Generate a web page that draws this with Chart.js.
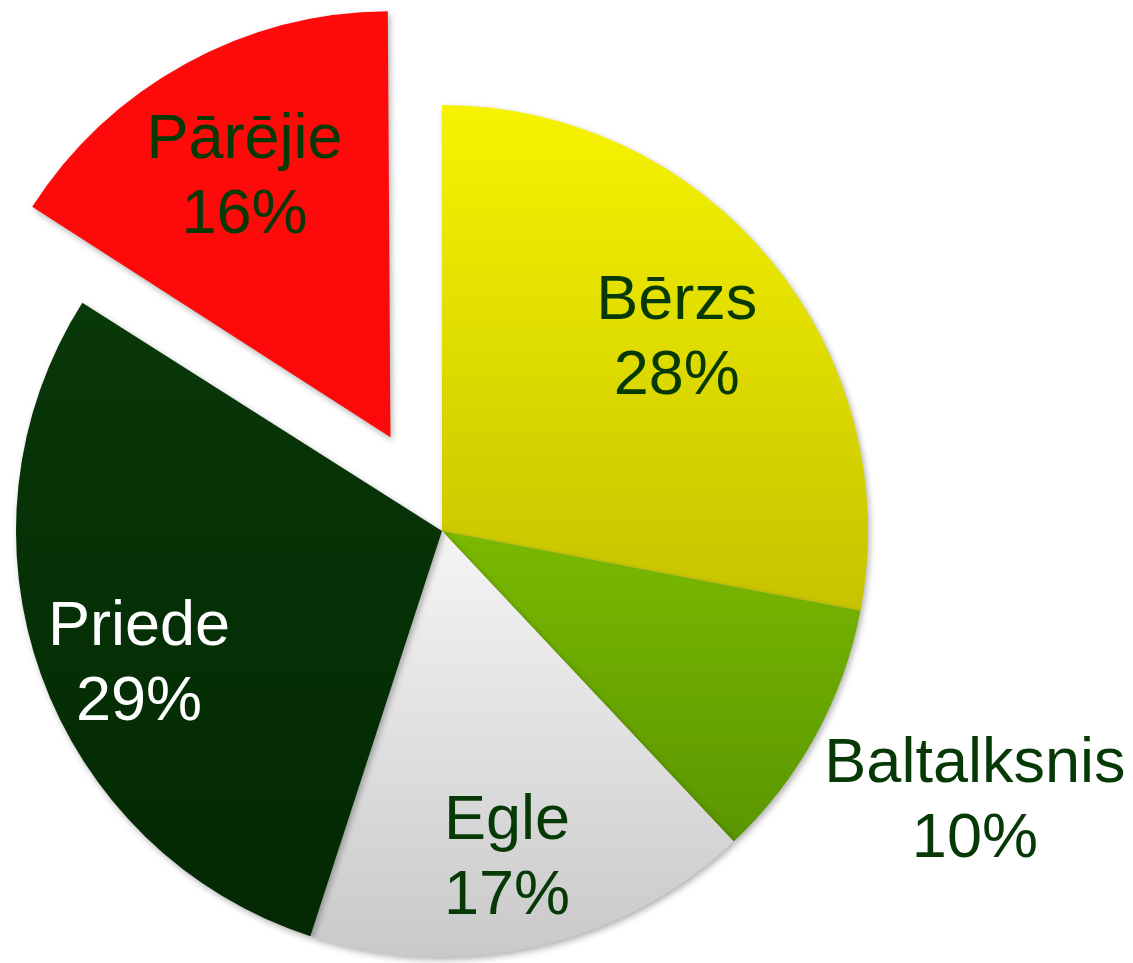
<!DOCTYPE html>
<html>
<head>
<meta charset="utf-8">
<script src="https://cdn.jsdelivr.net/npm/chart.js@4/dist/chart.umd.min.js"></script>
<style>
  html, body { margin: 0; padding: 0; background: #ffffff; }
  #wrap { width: 1133px; height: 963px; }
</style>
</head>
<body>
<div id="wrap"><canvas id="pie" width="1133" height="963"></canvas></div>
<script>
// data (percent shares)
const categories = ['Bērzs', 'Baltalksnis', 'Egle', 'Priede', 'Pārējie'];
const shares = [28, 10, 17, 29, 16];

// styling
const sliceStops = [
  [[0, '#f6f300'], [0.6, '#c6c200'], [1, '#b2ae00']],
  [[0, '#9ad000'], [0.5, '#7aba00'], [0.9, '#579200']],
  [[0, '#ffffff'], [0.5, '#f5f5f5'], [1, '#c9c9c9']],
  [[0, '#0c3e0c'], [0.4, '#073407'], [1, '#032803']],
  [[0, '#ff0a0a'], [1, '#fb0808']]
];
const sliceOffsets = [0, 0, 0, 0, 428];
const labelColors = ['#063906', '#063906', '#063906', '#ffffff', '#063906'];
const labelRadius = [0.712, 1.404, 0.785, 0.778, 0.698];
const labelAngleShift = [0.3, -1.8, 1.4, -4.1, -0.6];
const pieRadius = 426;
const lineHeight = 75;

function sliceFill(context) {
  const chart = context.chart;
  const area = chart.chartArea;
  const stops = sliceStops[context.dataIndex];
  if (!area) return stops[0][1];
  const cy = (area.top + area.bottom) / 2;
  const g = chart.ctx.createLinearGradient(0, cy - pieRadius, 0, cy + pieRadius);
  stops.forEach(([s, c]) => g.addColorStop(s, c));
  return g;
}

const sliceLabels = {
  id: 'sliceLabels',
  afterDatasetUpdate(chart, args) {
    // chart.js grows an exploded slice a bit; keep it the same size as the rest
    args.meta.data.forEach((arc) => {
      const off = (arc.options.offset || 0) / 4;
      if (!off) return;
      const fix = 1 - Math.sin(Math.min(Math.PI, arc.circumference || 0));
      arc.outerRadius -= off * fix;
    });
  },
  beforeDatasetsDraw(chart) {
    const ctx = chart.ctx;
    ctx.save();
    ctx.shadowColor = 'rgba(0,0,0,0.30)';
    ctx.shadowBlur = 6;
    ctx.shadowOffsetX = 2;
    ctx.shadowOffsetY = 3;
  },
  afterDatasetsDraw(chart) {
    const ctx = chart.ctx;
    ctx.restore();
    const meta = chart.getDatasetMeta(0);
    ctx.save();
    ctx.font = '63px "Liberation Sans", Arial, sans-serif';
    ctx.textAlign = 'center';
    ctx.textBaseline = 'middle';
    meta.data.forEach((arc, i) => {
      const p = arc.getProps(['x', 'y', 'startAngle', 'endAngle'], true);
      const mid = (p.startAngle + p.endAngle) / 2;
      // exploded slices are pushed out by a quarter of their offset
      const push = (arc.options.offset || 0) / 4;
      const a = mid + labelAngleShift[i] * Math.PI / 180;
      const r = pieRadius * labelRadius[i];
      const cx = p.x + Math.cos(mid) * push + Math.cos(a) * r;
      const cy = p.y + Math.sin(mid) * push + Math.sin(a) * r;
      ctx.fillStyle = labelColors[i];
      ctx.fillText(categories[i], cx, cy - lineHeight / 2);
      ctx.fillText(shares[i] + '%', cx, cy + lineHeight / 2);
    });
    ctx.restore();
  }
};

new Chart(document.getElementById('pie'), {
  type: 'pie',
  data: {
    labels: categories,
    datasets: [{
      data: shares,
      backgroundColor: sliceFill,
      borderWidth: 0,
      offset: sliceOffsets,
      radius: pieRadius
    }]
  },
  options: {
    responsive: false,
    animation: false,
    layout: { padding: { left: 0, right: 249, top: 99, bottom: 0 } },
    plugins: { legend: { display: false }, tooltip: { enabled: false } }
  },
  plugins: [sliceLabels]
});
</script>
</body>
</html>
